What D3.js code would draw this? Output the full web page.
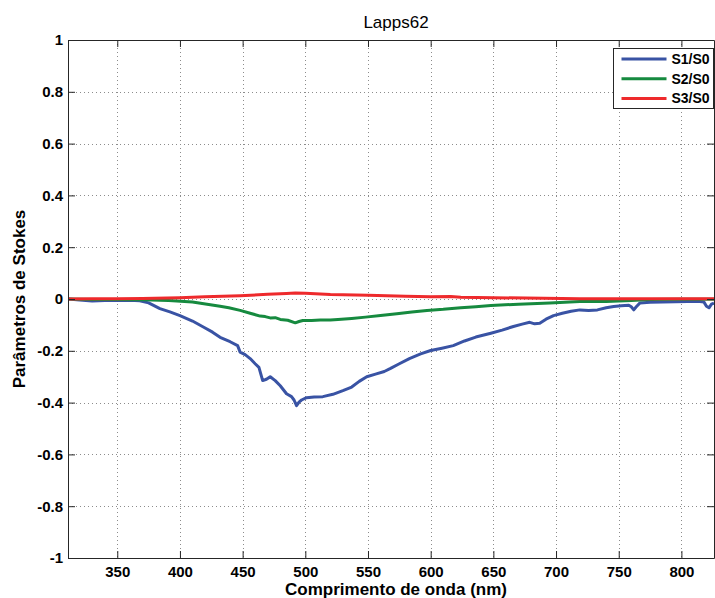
<!DOCTYPE html>
<html>
<head>
<meta charset="utf-8">
<script src="https://cdn.jsdelivr.net/npm/d3@7"></script>
<style>
  html, body { margin: 0; padding: 0; background: #fff; }
  svg { display: block; font-family: "Liberation Sans", Arial, sans-serif; }
</style>
</head>
<body>
<svg id="chart" width="715" height="598"></svg>
<script>
// ---- data ----
const title = "Lapps62";
const xLabel = "Comprimento de onda (nm)";
const yLabel = "Parâmetros de Stokes";
const seriesNames = ["S1/S0", "S2/S0", "S3/S0"];
const seriesColors = ["#3953a4", "#168a3f", "#ee2a2c"];
const xTicks = [350, 400, 450, 500, 550, 600, 650, 700, 750, 800];
const yTicks = [-1, -0.8, -0.6, -0.4, -0.2, 0, 0.2, 0.4, 0.6, 0.8, 1];
const xDomain = [310.7, 826];
const yDomain = [-1, 1];

const s1Wavelength = [311,320,330,340,350,360,368,375,384,392,400,410,419,426,432,440,446,448,452,456,460,463,466,469,472,476,480,485,489,491,493,495,497,501,507,514,522,530,537,543,549,556,563,568,575,583,592,600,609,618,627,636,648,657,666,673,679,683,687,692,698,705,712,719,726,733,740,746,752,758,760,762,764,767,775,785,795,805,813,818,820,822,824,826];
const s1Values = [0,-0.004,-0.008,-0.006,-0.006,-0.005,-0.007,-0.015,-0.037,-0.05,-0.064,-0.085,-0.109,-0.128,-0.148,-0.165,-0.18,-0.205,-0.215,-0.23,-0.25,-0.264,-0.315,-0.31,-0.30,-0.315,-0.335,-0.366,-0.377,-0.39,-0.412,-0.398,-0.39,-0.381,-0.378,-0.377,-0.368,-0.354,-0.34,-0.318,-0.30,-0.29,-0.28,-0.268,-0.25,-0.23,-0.212,-0.199,-0.19,-0.18,-0.162,-0.147,-0.132,-0.12,-0.106,-0.097,-0.09,-0.096,-0.094,-0.078,-0.064,-0.055,-0.047,-0.042,-0.044,-0.042,-0.034,-0.029,-0.026,-0.024,-0.03,-0.042,-0.03,-0.015,-0.013,-0.012,-0.011,-0.01,-0.009,-0.012,-0.028,-0.034,-0.02,-0.016];

const s2Wavelength = [311,330,350,370,391,410,432,439,448,456,464,468,472,476,480,486,492,495,498,505,512,520,526,537,548,560,573,585,597,610,624,636,648,670,695,719,740,760,775,800,826];
const s2Values = [0,-0.002,-0.002,-0.003,-0.006,-0.012,-0.028,-0.034,-0.044,-0.055,-0.066,-0.068,-0.073,-0.072,-0.079,-0.082,-0.092,-0.087,-0.083,-0.083,-0.081,-0.081,-0.079,-0.075,-0.07,-0.064,-0.057,-0.05,-0.044,-0.04,-0.034,-0.03,-0.025,-0.02,-0.015,-0.01,-0.01,-0.006,-0.002,-0.001,-0.001];

const s3Wavelength = [311,330,350,370,400,420,448,470,485,492,500,520,550,580,600,616,624,650,690,719,760,800,826];
const s3Values = [0,0.001,0.001,0.002,0.005,0.009,0.013,0.018,0.021,0.023,0.022,0.017,0.014,0.011,0.009,0.01,0.007,0.005,0.003,0.001,0.001,0.001,0.001];

const seriesX = [s1Wavelength, s2Wavelength, s3Wavelength];
const seriesY = [s1Values, s2Values, s3Values];

// ---- layout ----
const margin = { left: 68, top: 40, right: 1, bottom: 40 };
const W = 715, H = 598;
const iw = W - margin.left - margin.right;
const ih = H - margin.top - margin.bottom;

const svg = d3.select("#chart");
const g = svg.append("g").attr("transform", `translate(${margin.left},${margin.top})`);

const x = d3.scaleLinear().domain(xDomain).range([0, iw]);
const y = d3.scaleLinear().domain(yDomain).range([ih, 0]);

// grid
g.append("g").selectAll("line").data(xTicks).join("line")
  .attr("x1", d => Math.round(x(d)) + 0.5).attr("x2", d => Math.round(x(d)) + 0.5)
  .attr("y1", 0).attr("y2", ih)
  .attr("stroke", "#8c8c8c").attr("stroke-width", 1).attr("stroke-dasharray", "1,3");
g.append("g").selectAll("line").data(yTicks.filter(d => d > -1 && d < 1)).join("line")
  .attr("x1", 0).attr("x2", iw)
  .attr("y1", d => Math.round(y(d)) + 0.5).attr("y2", d => Math.round(y(d)) + 0.5)
  .attr("stroke", "#8c8c8c").attr("stroke-width", 1).attr("stroke-dasharray", "1,3");

// clip
svg.append("defs").append("clipPath").attr("id", "clip")
  .append("rect").attr("width", iw).attr("height", ih);

// lines
const line = d3.line().x(d => x(d[0])).y(d => y(d[1]));
const plot = g.append("g").attr("clip-path", "url(#clip)");
seriesY.forEach((vals, i) => {
  const pts = seriesX[i].map((w, k) => [w, vals[k]]);
  plot.append("path").datum(pts)
    .attr("fill", "none").attr("stroke", seriesColors[i])
    .attr("stroke-width", 3).attr("stroke-linejoin", "round")
    .attr("d", line);
});

// axes (MATLAB style, ticks inside)
const tickLen = 7;
const axB = g.append("g").attr("transform", `translate(0,${ih})`)
  .call(d3.axisBottom(x).tickValues(xTicks).tickSizeInner(-tickLen).tickSizeOuter(0).tickPadding(8).tickFormat(d => String(d)));
const axT = g.append("g")
  .call(d3.axisTop(x).tickValues(xTicks).tickSizeInner(-tickLen).tickSizeOuter(0).tickFormat(""));
const axL = g.append("g")
  .call(d3.axisLeft(y).tickValues(yTicks).tickSizeInner(-tickLen).tickSizeOuter(0).tickPadding(5).tickFormat(d => String(d)));
const axR = g.append("g").attr("transform", `translate(${iw},0)`)
  .call(d3.axisRight(y).tickValues(yTicks).tickSizeInner(-tickLen).tickSizeOuter(0).tickFormat(""));
[axB, axT, axL, axR].forEach(a => {
  a.select(".domain").attr("stroke", "#262626");
  a.selectAll(".tick line").attr("stroke", "#262626");
  a.selectAll("text").attr("fill", "#000").attr("font-size", 15).attr("font-weight", "bold")
    .attr("font-family", "Liberation Sans, Arial, sans-serif");
});

// title & labels
svg.append("text").attr("x", 396).attr("y", 28).attr("text-anchor", "middle")
  .attr("font-size", 17).attr("fill", "#000").text(title);
svg.append("text").attr("x", 396).attr("y", 595).attr("text-anchor", "middle")
  .attr("font-size", 17).attr("font-weight", "bold").attr("fill", "#000").text(xLabel);
svg.append("text").attr("transform", `translate(25,${margin.top + y(0)}) rotate(-90)`)
  .attr("text-anchor", "middle").attr("font-size", 17).attr("font-weight", "bold")
  .attr("fill", "#000").text(yLabel);

// legend
const lg = svg.append("g").attr("transform", "translate(613.5,48.5)");
lg.append("rect").attr("width", 100).attr("height", 60)
  .attr("fill", "#fff").attr("stroke", "#262626").attr("stroke-width", 1);
seriesNames.forEach((n, i) => {
  const yy = 10.5 + i * 19.7;
  lg.append("line").attr("x1", 8).attr("x2", 53).attr("y1", yy).attr("y2", yy)
    .attr("stroke", seriesColors[i]).attr("stroke-width", 3);
  lg.append("text").attr("x", 58).attr("y", yy + 5).attr("font-size", 14)
    .attr("font-weight", "bold").attr("fill", "#000").text(n);
});
</script>
</body>
</html>
